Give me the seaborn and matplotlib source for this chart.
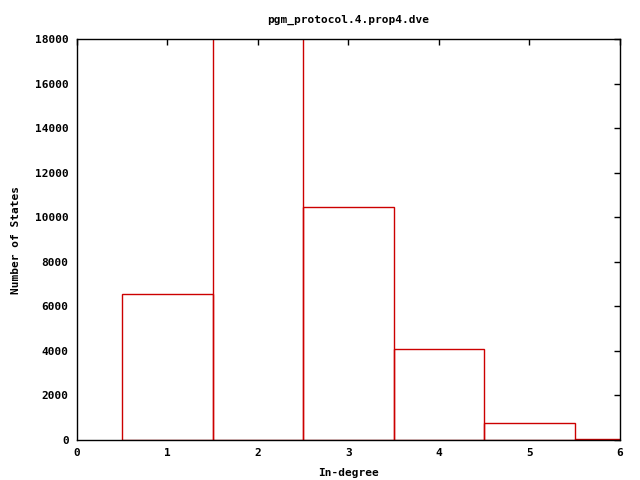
import seaborn as sns
import pandas as pd
import matplotlib.pyplot as plt

# in-degree histogram values
degrees = [1, 2, 3, 4, 5, 6]
states = [6550, 24000, 10450, 4080, 760, 50]

df = pd.DataFrame({'degree': degrees, 'states': states})

sns.set_style('white')
plt.rcParams['font.family'] = ['DejaVu Sans Mono']
plt.rcParams['font.size'] = 8
plt.rcParams['font.weight'] = 'bold'
plt.rcParams['text.color'] = 'black'
plt.rcParams['axes.labelcolor'] = 'black'
plt.rcParams['xtick.color'] = 'black'
plt.rcParams['ytick.color'] = 'black'

fig = plt.figure(figsize=(6.4, 4.8), dpi=100)
ax = fig.add_axes([0.1203, 0.0833, 0.8484, 0.8354])

sns.histplot(data=df, x='degree', weights='states', discrete=True,
             element='bars', fill=False, color='#cc0000', linewidth=1, ax=ax)

ax.set_xlim(0, 6)
ax.set_ylim(0, 18000)
ax.set_xticks(range(0, 7))
ax.set_yticks(range(0, 18001, 2000))
ax.tick_params(direction='in', top=True, right=True, length=4, width=1,
               color='black', labelcolor='black', labelsize=8, pad=6)
for s in ax.spines.values():
    s.set_color('black')
    s.set_linewidth(1)

ax.set_title('pgm_protocol.4.prop4.dve', fontsize=8, fontweight='bold', pad=12)
ax.set_xlabel('In-degree', fontsize=8, fontweight='bold', labelpad=7)
ax.set_ylabel('Number of States', fontsize=8, fontweight='bold', labelpad=10)

fig.savefig('out.png', dpi=100)
